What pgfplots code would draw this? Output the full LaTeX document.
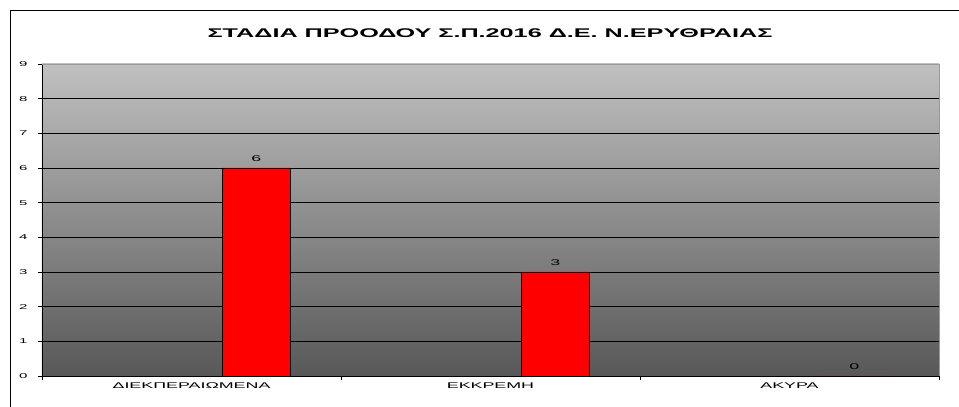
\documentclass[border=0pt]{standalone}
\usepackage{pgfplots}
\pgfplotsset{compat=1.18}
\usepackage{fontspec}
\setmainfont{Liberation Sans}
\newfontfamily\wide[FakeStretch=2.15]{Liberation Sans}
\newfontfamily\widetitle[FakeStretch=2.0]{Liberation Sans}
\definecolor{bgtop}{RGB}{192,192,192}
\definecolor{bgbot}{RGB}{88,88,88}
\begin{document}
\begin{tikzpicture}
\path[use as bounding box] (0pt,0pt) rectangle (959pt,407pt);
\draw[black, line width=1.6pt] (10.5pt,0pt) -- (10.5pt,396.5pt) -- (959pt,396.5pt);
\node[font=\widetitle\bfseries\fontsize{12.6}{14}\selectfont] at (490pt,374pt) {ΣΤΑΔΙΑ ΠΡΟΟΔΟΥ Σ.Π.2016 Δ.Ε. Ν.ΕΡΥΘΡΑΙΑΣ};
\begin{axis}[
  at={(42pt,31pt)}, anchor=south west,
  scale only axis, width=897pt, height=312pt,
  xmin=-0.5, xmax=2.5, ymin=0, ymax=9,
  axis background/.style={shade, top color=bgtop, bottom color=bgbot},
  axis lines*=left,
  axis line style={black, line width=0.9pt},
  ytick={0,...,9},
  xtick={-0.5,0.5,1.5,2.5},
  xticklabels={},
  extra x ticks={0,1,2},
  extra x tick labels={ΔΙΕΚΠΕΡΑΙΩΜΕΝΑ,ΕΚΚΡΕΜΗ,ΑΚΥΡΑ},
  extra x tick style={major tick length=0pt, grid=none},
  tick align=outside,
  major tick length=4pt,
  tick style={black, line width=0.8pt},
  ymajorgrids,
  grid style={black, line width=0.8pt},
  tick label style={font=\wide\fontsize{7}{8}\selectfont},
  x tick label style={font=\wide\fontsize{8.3}{10}\selectfont, yshift=-3pt},
  yticklabel style={xshift=-7pt},
  /pgf/number format/assume math mode=true,
  nodes near coords,
  nodes near coords style={font=\wide\fontsize{8.3}{9}\selectfont, black, yshift=3pt},
  clip=false,
]
\addplot[ybar, bar width=0.227, fill=red, draw=black, line width=0.9pt]
  coordinates {(0.217,6) (1.217,3) (2.217,0)};
\draw[gray!80, line width=0.9pt] (rel axis cs:0,1) -- (rel axis cs:1,1) -- (rel axis cs:1,0);
\end{axis}
\end{tikzpicture}
\end{document}
